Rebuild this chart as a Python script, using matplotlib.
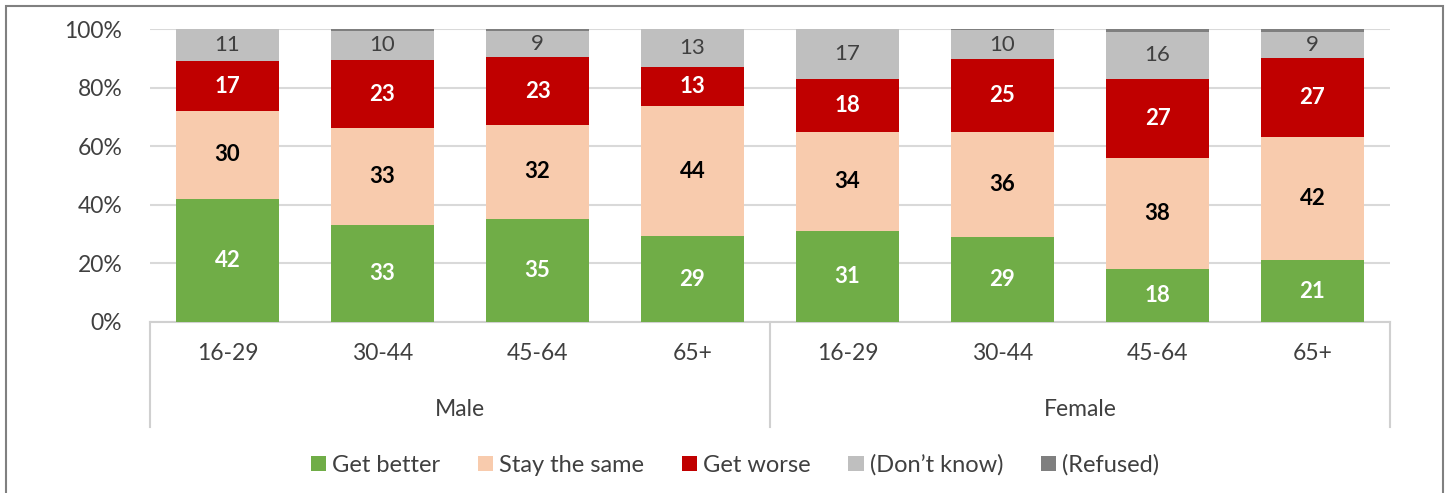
import matplotlib
matplotlib.use("Agg")
import matplotlib.pyplot as plt
import matplotlib.transforms as mtransforms
from matplotlib.patches import Patch, Rectangle
import numpy as np

plt.rcParams['font.family'] = ['Lato', 'DejaVu Sans']

age_groups = ["16-29", "30-44", "45-64", "65+", "16-29", "30-44", "45-64", "65+"]
genders = ["Male", "Female"]
series_names = ["Get better", "Stay the same", "Get worse", "(Don\u2019t know)", "(Refused)"]
get_better = [42, 33, 35, 29, 31, 29, 18, 21]
stay_same = [30, 33, 32, 44, 34, 36, 38, 42]
get_worse = [17, 23, 23, 13, 18, 25, 27, 27]
dont_know = [11, 10, 9, 13, 17, 10, 16, 9]
refused = [0, 0.6, 0.6, 0, 0, 0.4, 1, 1]

colors = ["#70AD47", "#F8CBAD", "#C00000", "#BFBFBF", "#7F7F7F"]
label_colors = ["white", "black", "white", "#404040", None]
label_weights = ["bold", "bold", "bold", "normal", "normal"]

data = np.array([get_better, stay_same, get_worse, dont_know, refused], dtype=float)
totals = data.sum(axis=0)
pct = data / totals * 100

fig = plt.figure(figsize=(14.48, 4.93), dpi=100)
ax = fig.add_axes([150/1448, 1-322/493, 1240/1448, 293/493])

x = np.arange(len(age_groups))
bottom = np.zeros(len(x))
for i, name in enumerate(series_names):
    ax.bar(x, pct[i], bottom=bottom, width=0.665, color=colors[i], zorder=3, label=name)
    if label_colors[i] is not None:
        for j in range(len(x)):
            ax.text(x[j], bottom[j] + pct[i][j] / 2, f"{int(data[i][j])}",
                    ha="center", va="center", color=label_colors[i],
                    fontsize=16, fontweight=label_weights[i], zorder=4)
    bottom += pct[i]

ax.set_xlim(-0.5, len(x) - 0.5)
ax.set_ylim(0, 100)
ax.set_yticks(np.arange(0, 101, 20))
ax.set_yticklabels([f"{v}%" for v in range(0, 101, 20)], fontsize=16.5, color="#404040")
ax.yaxis.grid(True, color="#d9d9d9", linewidth=1.5, zorder=0)
ax.set_xticks(x)
ax.set_xticklabels(age_groups, fontsize=16.5, color="#404040")
ax.tick_params(axis="both", length=0)
ax.tick_params(axis="x", pad=15)
ax.tick_params(axis="y", pad=20)
for s in ["top", "right", "left"]:
    ax.spines[s].set_visible(False)
ax.spines["bottom"].set_color("#d0d0d0")
ax.spines["bottom"].set_linewidth(1.5)

trans = mtransforms.blended_transform_factory(ax.transData, ax.transAxes)
for xv in [-0.5, 3.5, 7.5]:
    ax.plot([xv, xv], [0, -0.36], transform=trans, color="#d0d0d0", linewidth=1.5, clip_on=False)
for k, g in enumerate(genders):
    ax.text(1.5 + 4 * k, -0.30, g, transform=trans, ha="center", va="center",
            fontsize=16.5, color="#404040")

handles = [Patch(facecolor=c, edgecolor="none") for c in colors]
fig.legend(handles, series_names, loc="center", bbox_to_anchor=(735/1448, 1-465/493),
           ncol=5, frameon=False, fontsize=17, handlelength=0.65, handleheight=0.65,
           handletextpad=0.25, columnspacing=1.6, labelcolor="#404040")

fig.patches.append(Rectangle((6/1448, -0.05), (1443-6)/1448, 1.05 - 6/493 + 0.0,
                             transform=fig.transFigure, fill=False, edgecolor="#808080",
                             linewidth=1.5))

fig.savefig("out.png", dpi=100)
